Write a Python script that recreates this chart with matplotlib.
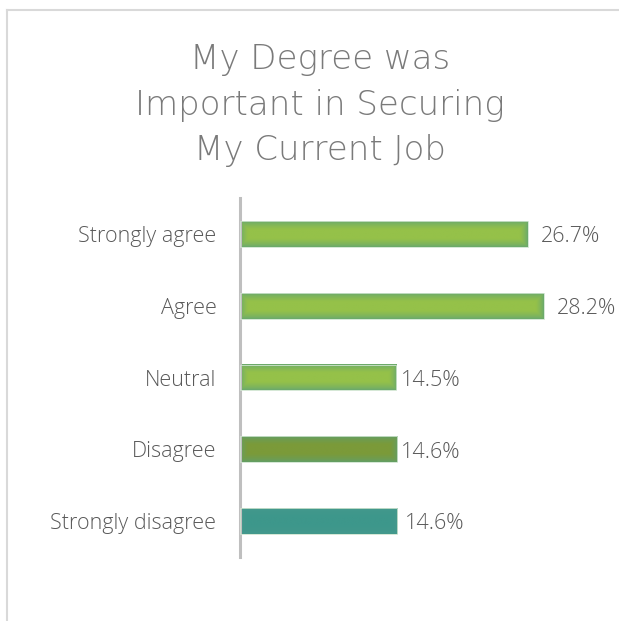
import numpy as np
import matplotlib.pyplot as plt
from matplotlib.lines import Line2D

# Survey responses
categories = ['Strongly agree', 'Agree', 'Neutral', 'Disagree', 'Strongly disagree']
percents = [26.7, 28.2, 14.5, 14.6, 14.6]
value_labels = ['26.7%', '28.2%', '14.5%', '14.6%', '14.6%']

# (edge colour, centre colour) for the glow on each bar
bar_colors = [
    ('#66a770', '#95c149'),
    ('#66a770', '#95c149'),
    ('#66a770', '#95c149'),
    ('#619f69', '#7b9a39'),
    ('#45998d', '#3d978b'),
]
label_gap = [1.2, 1.2, 0.45, 0.3, 0.75]

plt.rcParams['font.family'] = ['Open Sans', 'DejaVu Sans']

W, H = 619, 621
fig = plt.figure(figsize=(W / 100, H / 100), dpi=100)
ax = fig.add_axes([240 / W, 64 / H, 377 / W, 359 / H])

ypos = np.arange(len(categories))
bar_h = 0.36
ax.set_xlim(0, 35)
ax.set_ylim(len(categories) - 0.5, -0.5)


def hex_rgb(c):
    c = c.lstrip('#')
    return np.array([int(c[i:i + 2], 16) / 255 for i in (0, 2, 4)])


px_per_x = 377 / 35
px_per_y = 359 / 5
for y, v, lab, gap, (edge, centre) in zip(ypos, percents, value_labels, label_gap, bar_colors):
    nx = max(int(v * px_per_x), 2)
    ny = max(int(bar_h * px_per_y), 2)
    xx, yy = np.meshgrid(np.arange(nx) + 0.5, np.arange(ny) + 0.5)
    d = np.minimum.reduce([xx, nx - xx, yy, ny - yy])
    t = np.clip(d / 8.0, 0, 1) ** 0.7
    t = t[..., None]
    img = hex_rgb(edge) * (1 - t) + hex_rgb(centre) * t
    ax.imshow(img, extent=(0, v, y + bar_h / 2, y - bar_h / 2),
              aspect='auto', interpolation='bilinear', zorder=2)
    ax.barh(y, v, height=bar_h, facecolor='none', edgecolor='#cfe4cf',
            linewidth=0.6, zorder=3)
    ax.text(v + gap, y + 0.04, lab, va='center', ha='left',
            fontsize=15.5, color='#595959', fontweight='light')

ax.set_yticks(ypos)
ax.set_yticklabels(categories, fontsize=15.5, color='#595959', fontweight='light')
ax.tick_params(axis='y', length=0, pad=17)
ax.set_xticks([])
for s in ['top', 'right', 'bottom']:
    ax.spines[s].set_visible(False)
ax.spines['left'].set_color('#bfbfbf')
ax.spines['left'].set_linewidth(2.2)

fig.text(320 / W, 1 - 105 / H, 'My Degree was\nImportant in Securing\nMy Current Job',
         ha='center', va='center', fontsize=24.5, color='#7a7a7a',
         linespacing=1.48, family=['DejaVu Sans'], fontweight='light')

# light frame along the top and left
fig.add_artist(Line2D([7 / W, 1], [1 - 10 / H, 1 - 10 / H], color='#d9d9d9', lw=1.5))
fig.add_artist(Line2D([7 / W, 7 / W], [0, 1 - 10 / H], color='#d9d9d9', lw=1.5))

fig.savefig('out.png', dpi=100)
